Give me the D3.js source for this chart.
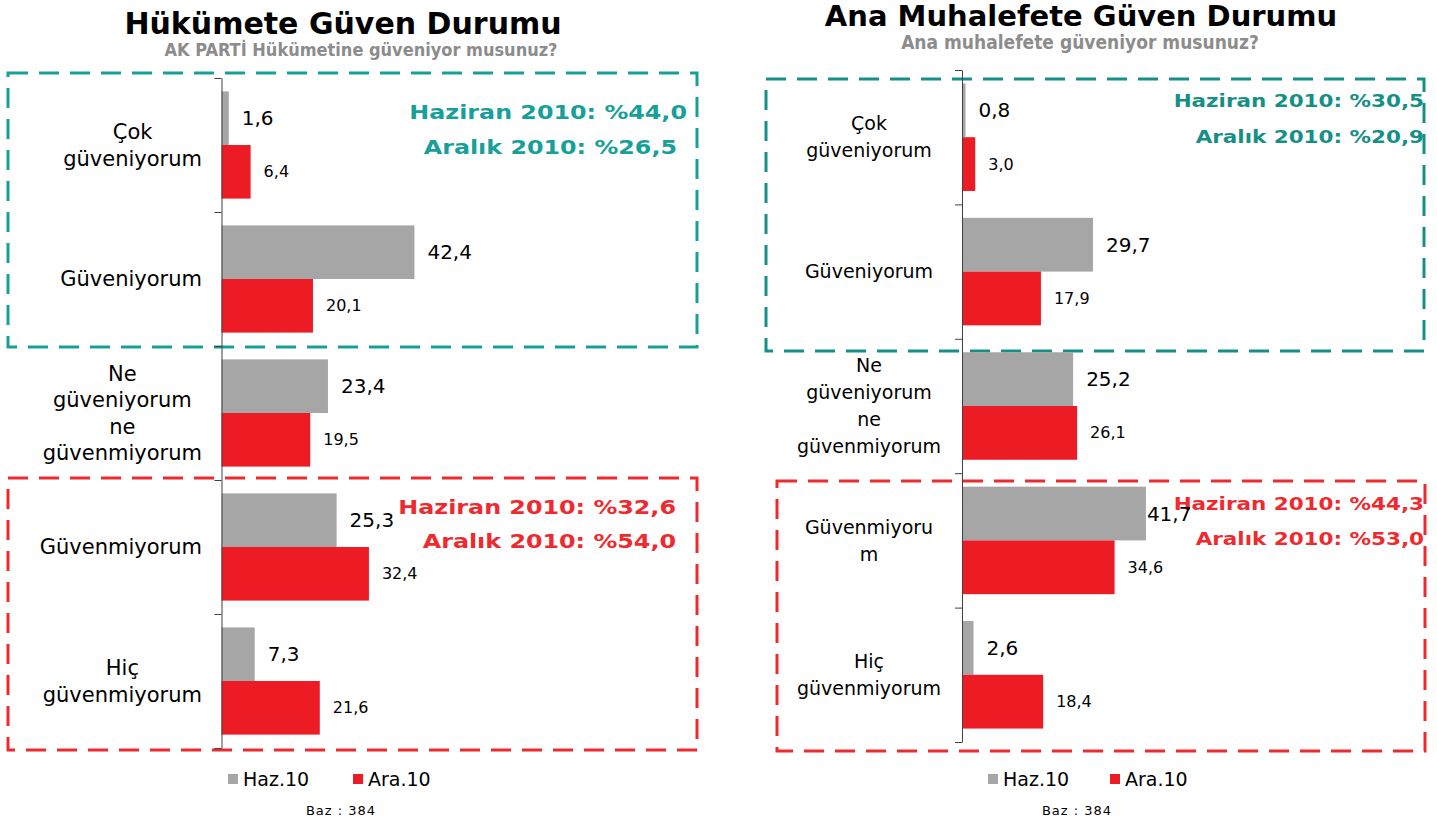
<!DOCTYPE html>
<html>
<head>
<meta charset="utf-8">
<script src="https://cdn.jsdelivr.net/npm/d3@7"></script>
<style>
  body { margin: 0; background: #fff; }
  text { font-family: "DejaVu Sans", Verdana, sans-serif; }
</style>
</head>
<body>
<div id="chart"></div>
<script>
// data
const seriesNames = ["Haz.10", "Ara.10"];
const seriesColors = ["#a6a6a6", "#ed1c24"];

const categoriesGov = ["Çok\ngüveniyorum", "Güveniyorum", "Ne\ngüveniyorum\nne\ngüvenmiyorum", "Güvenmiyorum", "Hiç\ngüvenmiyorum"];
const hazGov = [1.6, 42.4, 23.4, 25.3, 7.3];
const araGov = [6.4, 20.1, 19.5, 32.4, 21.6];
const trustGov = ["Haziran 2010: %44,0", "Aralık 2010: %26,5"];
const distrustGov = ["Haziran 2010: %32,6", "Aralık 2010: %54,0"];

const categoriesOpp = ["Çok\ngüveniyorum", "Güveniyorum", "Ne\ngüveniyorum\nne\ngüvenmiyorum", "Güvenmiyoru\nm", "Hiç\ngüvenmiyorum"];
const hazOpp = [0.8, 29.7, 25.2, 41.7, 2.6];
const araOpp = [3.0, 17.9, 26.1, 34.6, 18.4];
const trustOpp = ["Haziran 2010: %30,5", "Aralık 2010: %20,9"];
const distrustOpp = ["Haziran 2010: %44,3", "Aralık 2010: %53,0"];

const baseText = "Baz : 384";

const fmt = v => d3.format(".1f")(v).replace(".", ",");

const svg = d3.select("#chart")
  .append("svg")
  .attr("width", 1437)
  .attr("height", 824);

function drawPanel(opt) {
  const g = svg.append("g");

  // titles
  g.append("text")
    .attr("x", opt.titleX).attr("y", opt.titleY)
    .attr("text-anchor", "middle")
    .style("font-size", opt.titleSize + "px")
    .style("font-weight", "bold")
    .attr("fill", "#000")
    .text(opt.title);

  g.append("text")
    .attr("x", opt.subX).attr("y", opt.subY)
    .attr("text-anchor", "middle")
    .style("font-size", opt.subSize + "px")
    .style("font-weight", "bold")
    .style("font-stretch", "condensed")
    .style("font-family", "'DejaVu Sans Condensed', 'DejaVu Sans', sans-serif")
    .attr("fill", "#8c8c8c")
    .text(opt.subtitle);

  // dashed boxes with their summary lines
  const notes = [];
  opt.boxes.forEach(b => {
    g.append("rect")
      .attr("x", b.x).attr("y", b.y)
      .attr("width", b.w).attr("height", b.h)
      .attr("fill", "none")
      .attr("stroke", b.color)
      .attr("stroke-width", 3)
      .attr("stroke-dasharray", "20,11");

    b.lines.forEach((t, i) => {
      const txt = g.append("text")
        .attr("x", b.textX[i]).attr("y", b.textY[i])
        .attr("dy", "0.35em")
        .attr("text-anchor", "end")
        .style("font-size", b.fontSize + "px")
        .style("font-weight", "bold")
        .attr("fill", b.color)
        .text(t);
      // widen glyphs a bit to get the heavy, wide look of the original face
      const w = txt.node().getComputedTextLength();
      txt.attr("textLength", w * b.stretch).attr("lengthAdjust", "spacingAndGlyphs");
      notes.push(txt.node().getBBox());
    });
  });

  const y = d3.scaleBand()
    .domain(d3.range(opt.categories.length))
    .range([opt.top, opt.bottom])
    .paddingInner(0.2)
    .paddingOuter(0.1);

  const ySub = d3.scaleBand()
    .domain([0, 1])
    .range([0, y.bandwidth()]);

  const x = d3.scaleLinear()
    .domain([0, 50])
    .range([opt.axisX, opt.axisX + 50 * opt.pxPerUnit]);

  const rows = opt.categories.map((c, i) => ({ i, vals: [opt.haz[i], opt.ara[i]] }));

  const grp = g.selectAll("g.cat")
    .data(rows)
    .enter()
    .append("g")
    .attr("class", "cat")
    .attr("transform", d => `translate(0,${y(d.i)})`);

  grp.selectAll("rect")
    .data(d => d.vals.map((v, s) => ({ v, s })))
    .enter()
    .append("rect")
    .attr("x", x(0))
    .attr("y", d => ySub(d.s))
    .attr("width", d => x(d.v) - x(0))
    .attr("height", ySub.bandwidth())
    .attr("fill", d => seriesColors[d.s]);

  grp.selectAll("text.val")
    .data(d => d.vals.map((v, s) => ({ v, s, i: d.i })))
    .enter()
    .append("text")
    .attr("class", "val")
    .attr("x", d => x(d.v) + 13)
    .attr("y", d => ySub(d.s) + ySub.bandwidth() / 2)
    .attr("dy", "0.35em")
    .style("font-size", d => d.s === 0 ? "20px" : "16px")
    .attr("fill", "#000")
    .text(d => fmt(d.v))
    .each(function (d) {
      // pull a value label back towards its bar if it runs into a summary line
      const el = d3.select(this);
      const w = this.getComputedTextLength();
      const cy = y(d.i) + ySub(d.s) + ySub.bandwidth() / 2;
      const lx = x(d.v) + 13;
      notes.forEach(n => {
        if (cy > n.y && cy < n.y + n.height + 10 && lx + w > n.x) {
          el.attr("x", Math.max(x(d.v) + 1, n.x - w - 1));
        }
      });
    });

  // category axis
  const axisScale = d3.scaleLinear()
    .domain([0, opt.categories.length])
    .range([opt.top, opt.bottom]);

  const axis = d3.axisLeft(axisScale)
    .tickValues(d3.range(opt.categories.length + 1))
    .tickSize(7)
    .tickSizeOuter(0)
    .tickFormat("");

  const ag = g.append("g")
    .attr("transform", `translate(${opt.axisX},0)`)
    .call(axis);
  ag.selectAll("path, line").attr("stroke", "#404040");

  // category labels: lines centred in a block, block optionally pinned at its right edge
  opt.categories.forEach((c, i) => {
    const lines = c.split("\n");
    const cy = y(i) + y.bandwidth() / 2;
    const t = g.append("text")
      .attr("text-anchor", "middle")
      .style("font-size", opt.labelSize + "px")
      .attr("fill", "#000");
    const spans = lines.map((l, k) =>
      t.append("tspan")
        .attr("y", cy + (k - (lines.length - 1) / 2) * opt.lineH)
        .attr("dy", "0.35em")
        .text(l));
    let cx = opt.labelX;
    if (opt.labelRight) {
      const maxW = d3.max(spans, s => s.node().getComputedTextLength());
      cx = opt.labelRight - maxW / 2;
    }
    spans.forEach(s => s.attr("x", cx));
  });

  // legend
  seriesNames.forEach((n, s) => {
    g.append("rect")
      .attr("x", opt.legendX[s]).attr("y", 774)
      .attr("width", 10).attr("height", 10)
      .attr("fill", seriesColors[s]);
    g.append("text")
      .attr("x", opt.legendX[s] + 15).attr("y", 779)
      .attr("dy", "0.35em")
      .style("font-size", "19px")
      .attr("fill", "#000")
      .text(n);
  });

  g.append("text")
    .attr("x", opt.bazX).attr("y", 810)
    .attr("dy", "0.35em")
    .attr("text-anchor", "middle")
    .style("font-size", "13px")
    .style("letter-spacing", "1px")
    .attr("fill", "#000")
    .text(baseText);
}

drawPanel({
  title: "Hükümete Güven Durumu",
  subtitle: "AK PARTİ Hükümetine güveniyor musunuz?",
  titleX: 343, titleY: 34, titleSize: 30,
  subX: 361, subY: 56, subSize: 18,
  categories: categoriesGov, haz: hazGov, ara: araGov,
  top: 78, bottom: 748, axisX: 221.5, pxPerUnit: 4.55,
  labelX: 140, labelRight: 202, labelSize: 21, lineH: 26.5,
  legendX: [228, 353], bazX: 341,
  boxes: [
    { x: 8, y: 73, w: 689, h: 274, color: "#17a09a", lines: trustGov,
      textX: [687, 677], textY: [112, 147], fontSize: 20, stretch: 1.19 },
    { x: 8, y: 478, w: 689, h: 272, color: "#ee2a2f", lines: distrustGov,
      textX: [676, 676], textY: [507, 541], fontSize: 20, stretch: 1.19 }
  ]
});

drawPanel({
  title: "Ana Muhalefete Güven Durumu",
  subtitle: "Ana muhalefete güveniyor musunuz?",
  titleX: 1081, titleY: 26, titleSize: 29,
  subX: 1080, subY: 49, subSize: 19,
  categories: categoriesOpp, haz: hazOpp, ara: araOpp,
  top: 70, bottom: 742, axisX: 962, pxPerUnit: 4.41,
  labelX: 869, labelSize: 19, lineH: 27,
  legendX: [988, 1110], bazX: 1077,
  boxes: [
    { x: 766, y: 79, w: 658, h: 272, color: "#168f86", lines: trustOpp,
      textX: [1424, 1424], textY: [101, 137], fontSize: 18.5, stretch: 1.16 },
    { x: 777, y: 481, w: 648, h: 270, color: "#ee2a2f", lines: distrustOpp,
      textX: [1424, 1424], textY: [504, 539], fontSize: 18.5, stretch: 1.16 }
  ]
});
</script>
</body>
</html>
